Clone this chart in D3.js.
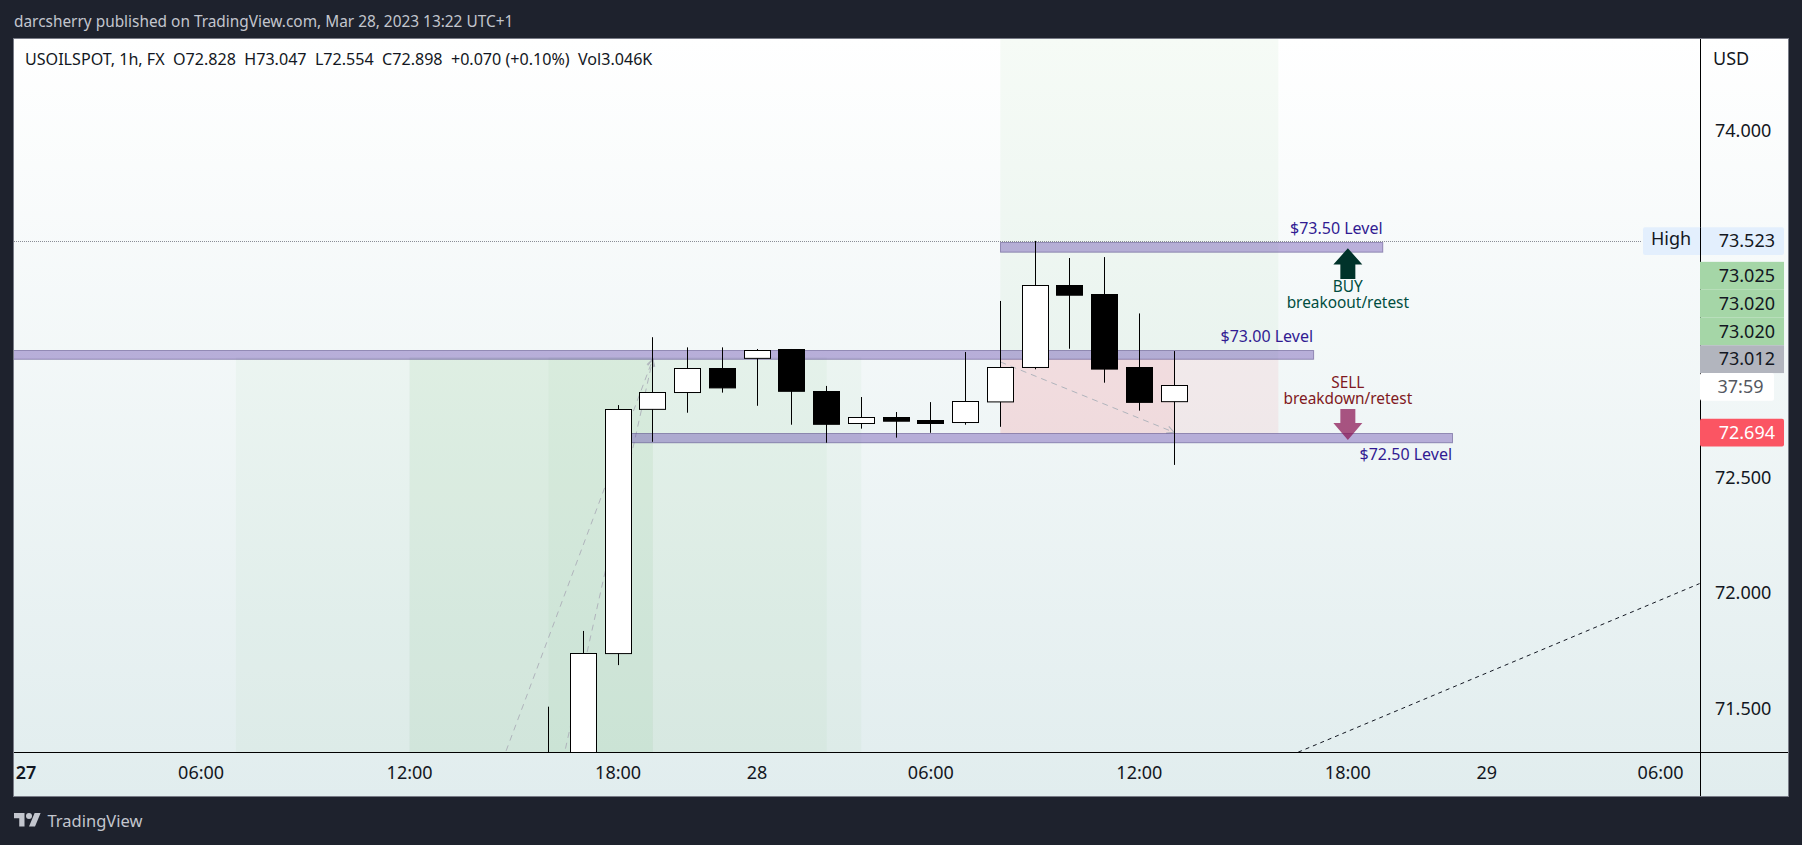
<!DOCTYPE html>
<html>
<head>
<meta charset="utf-8">
<script src="https://cdn.jsdelivr.net/npm/d3@7"></script>
<style>
  html, body { margin: 0; padding: 0; background: #1e222d; overflow: hidden; }
  svg { display: block; }
  text { font-family: "Noto Sans", sans-serif; }
</style>
</head>
<body>
<svg id="chart" width="1802" height="845"></svg>
<script>
// candles, bar numbers count hours from the "27" session open
const bars   = [16, 17, 18, 19, 20, 21, 22, 23, 24, 25, 26, 27, 28, 29, 30, 31, 32, 33, 34];
const opens  = [71.00, 71.20, 71.738, 72.795, 72.868, 72.972, 73.016, 73.052, 72.874, 72.734, 72.761, 72.748, 72.738, 72.828, 72.977, 73.333, 73.294, 72.974, 72.828];
const highs  = [71.507, 71.835, 72.813, 73.107, 73.063, 73.063, 73.056, 73.056, 72.896, 72.848, 72.783, 72.826, 73.043, 73.264, 73.524, 73.450, 73.454, 73.210, 73.047];
const lows   = [70.90, 71.10, 71.687, 72.654, 72.780, 72.867, 72.810, 72.728, 72.650, 72.711, 72.672, 72.693, 72.728, 72.719, 72.968, 73.057, 72.910, 72.789, 72.554];
const closes = [71.25, 71.738, 72.795, 72.868, 72.972, 72.888, 73.050, 72.871, 72.732, 72.760, 72.745, 72.735, 72.829, 72.977, 73.332, 73.291, 72.971, 72.823, 72.898];

// axes
const priceTicks = [74, 72.5, 72, 71.5];
const timeTickBars = [0, 6, 12, 18, 22, 27, 33, 39, 43, 48];
const timeTickLabels = ['27', '06:00', '12:00', '18:00', '28', '06:00', '12:00', '18:00', '29', '06:00'];

// drawing tools on the chart
const levelLabels = ['$73.50 Level', '$73.00 Level', '$72.50 Level'];
const levelStart  = [29, 0, 18];
const levelEnd    = [40, 38, 42];
const levelTop    = [73.519, 73.050, 72.690];
const levelBottom = [73.477, 73.012, 72.650];

const longStart = [7, 12, 12, 16];
const longEnd   = [25, 24, 19, 19];
const longTop   = 73.02;

const highPrice = 73.523;
const sideLabels = ['73.025', '73.020', '73.020', '73.012'];
const lastPrice = 72.694;
const countdown = '37:59';

const width = 1802, height = 845;
const panelLeft = 14, panelRight = 1788, panelTop = 39, panelBottom = 796;
const plotBottom = 752, axisX = 1700;

const x = d3.scaleLinear().domain([18, 34]).range([618.1, 1174.1]);
const y = d3.scaleLinear().domain([71.5, 74]).range([708.3, 131]);
const crisp = v => Math.floor(v) + 0.5;

const svg = d3.select('#chart');
const defs = svg.append('defs');

const grad = defs.append('linearGradient')
    .attr('id', 'bg').attr('x1', 0).attr('y1', 0).attr('x2', 0).attr('y2', 1);
grad.append('stop').attr('offset', '0%').attr('stop-color', '#ffffff');
grad.append('stop').attr('offset', '100%').attr('stop-color', '#e1edee');

defs.append('clipPath').attr('id', 'plot')
    .append('rect').attr('x', panelLeft).attr('y', panelTop).attr('width', axisX - panelLeft).attr('height', plotBottom - panelTop);

defs.append('marker').attr('id', 'head')
    .attr('viewBox', '0 0 10 10').attr('refX', 9).attr('refY', 5)
    .attr('markerWidth', 9).attr('markerHeight', 9).attr('markerUnits', 'userSpaceOnUse').attr('orient', 'auto')
    .append('path').attr('d', 'M1 1L9 5L1 9').attr('fill', 'none').attr('stroke', '#b0b4bc').attr('stroke-width', 1.2);

svg.append('rect').attr('width', width).attr('height', height).attr('fill', '#1e222d');
svg.append('rect')
    .attr('x', panelLeft - 0.5).attr('y', panelTop - 0.5)
    .attr('width', panelRight - panelLeft + 1).attr('height', panelBottom - panelTop + 1)
    .attr('fill', 'url(#bg)').attr('stroke', '#787b86');

const plot = svg.append('g').attr('clip-path', 'url(#plot)');

// long position boxes behind the candles
plot.selectAll('.long')
    .data(longStart)
    .enter()
    .append('rect')
    .attr('x', d => x(d))
    .attr('y', y(longTop))
    .attr('width', (d, i) => x(longEnd[i]) - x(d))
    .attr('height', plotBottom - y(longTop))
    .attr('fill', 'rgba(76, 175, 80, 0.04)');

// the big position box on the right
plot.append('rect')
    .attr('x', x(29)).attr('y', panelTop)
    .attr('width', x(37) - x(29)).attr('height', y(73.012) - panelTop)
    .attr('fill', 'rgba(76, 175, 80, 0.05)');
plot.append('rect')
    .attr('x', x(29)).attr('y', y(73.012))
    .attr('width', x(37) - x(29)).attr('height', y(72.69) - y(73.012))
    .attr('fill', 'rgba(242, 54, 69, 0.07)');
plot.append('rect')
    .attr('x', x(29)).attr('y', y(73.012))
    .attr('width', x(34) - x(29)).attr('height', y(72.69) - y(73.012))
    .attr('fill', 'rgba(242, 54, 69, 0.07)');

// position tool path lines
const toolLines = [
    [[12, 70.2], [19, 73.012]],
    [[16, 71.0], [19, 73.012]],
    [[29, 73.0], [34, 72.695]]
];
plot.selectAll('.tool')
    .data(toolLines)
    .enter()
    .append('line')
    .attr('x1', d => x(d[0][0])).attr('y1', d => y(d[0][1]))
    .attr('x2', d => x(d[1][0])).attr('y2', d => y(d[1][1]))
    .attr('stroke', '#b0b4bc').attr('stroke-dasharray', '6 5').attr('marker-end', 'url(#head)');

// level bands
plot.selectAll('.level')
    .data(levelStart)
    .enter()
    .append('rect')
    .attr('x', (d, i) => crisp(i === 1 ? panelLeft - 2 : x(d)))
    .attr('y', (d, i) => crisp(y(levelTop[i])))
    .attr('width', (d, i) => x(levelEnd[i]) - (i === 1 ? panelLeft - 2 : x(d)))
    .attr('height', (d, i) => y(levelBottom[i]) - y(levelTop[i]))
    .attr('fill', 'rgba(102, 74, 174, 0.42)')
    .attr('stroke', 'rgba(80, 66, 130, 0.5)');

// high line
svg.append('line')
    .attr('x1', panelLeft).attr('x2', 1641)
    .attr('y1', crisp(y(highPrice))).attr('y2', crisp(y(highPrice)))
    .attr('stroke', '#8a8d96').attr('stroke-dasharray', '1 1');

// long trend line running off the bottom
plot.append('line')
    .attr('x1', x(37.57)).attr('y1', y(71.31))
    .attr('x2', x(49.12)).attr('y2', y(72.04))
    .attr('stroke', '#131722').attr('stroke-dasharray', '4 4');

// candles
const candles = plot.selectAll('.candle')
    .data(bars)
    .enter()
    .append('g')
    .attr('class', 'candle');

candles.append('line')
    .attr('x1', d => crisp(x(d))).attr('x2', d => crisp(x(d)))
    .attr('y1', (d, i) => y(highs[i])).attr('y2', (d, i) => y(lows[i]))
    .attr('stroke', '#000');

candles.append('rect')
    .attr('x', d => crisp(x(d)) - 13)
    .attr('y', (d, i) => crisp(y(Math.max(opens[i], closes[i]))))
    .attr('width', 26)
    .attr('height', (d, i) => Math.abs(y(opens[i]) - y(closes[i])))
    .attr('fill', (d, i) => closes[i] >= opens[i] ? '#ffffff' : '#000000')
    .attr('stroke', '#000');

// arrows
const arrowX = x(39);
svg.append('path')
    .attr('d', d3.line()([[arrowX, 248.3], [arrowX + 14.5, 264.5], [arrowX + 7.5, 264.5], [arrowX + 7.5, 279], [arrowX - 7.5, 279], [arrowX - 7.5, 264.5], [arrowX - 14.5, 264.5]]) + 'Z')
    .attr('fill', '#00332a');
svg.append('path')
    .attr('d', d3.line()([[arrowX, 440], [arrowX + 14.5, 423], [arrowX + 7.5, 423], [arrowX + 7.5, 409], [arrowX - 7.5, 409], [arrowX - 7.5, 423], [arrowX - 14.5, 423]]) + 'Z')
    .attr('fill', '#880e4f').attr('fill-opacity', 0.7);

// annotation text
const levelText = (txt, xPos, yPos) => svg.append('text')
    .attr('x', xPos).attr('y', yPos)
    .attr('dy', '0.35em')
    .attr('text-anchor', 'end')
    .attr('font-size', 16)
    .attr('fill', '#311b92')
    .text(txt);

levelText(levelLabels[0], x(40), 228.7);
levelText(levelLabels[1], x(38), 336.7);
levelText(levelLabels[2], x(42), 454.7);

// two line notes under and over the arrows
const noteText = (lines, yPos, color) => {
    const note = svg.append('text')
        .attr('y', yPos)
        .attr('text-anchor', 'middle')
        .attr('font-size', 15.4)
        .attr('fill', color);
    note.selectAll('tspan')
        .data(lines)
        .enter()
        .append('tspan')
        .attr('x', arrowX)
        .attr('dy', (d, i) => i === 0 ? '0.35em' : 16.3)
        .text(d => d);
};
noteText(['BUY', 'breakoout/retest'], 286.7, '#004d40');
noteText(['SELL', 'breakdown/retest'], 382.7, '#801922');

// price axis
const axisText = 18;
const yAxis = svg.append('g')
    .attr('transform', `translate(${axisX + 0.5}, 0)`)
    .call(d3.axisRight(y).tickValues(priceTicks).tickFormat(d3.format('.3f')).tickSize(0).tickPadding(14.5));
yAxis.select('.domain').remove();
yAxis.selectAll('text').attr('font-size', axisText).attr('font-family', null).attr('fill', '#131722');

// time axis
const xAxis = svg.append('g')
    .attr('transform', `translate(0, ${plotBottom + 0.5})`)
    .call(d3.axisBottom(x).tickValues(timeTickBars).tickFormat((d, i) => timeTickLabels[i]).tickSize(0).tickPadding(13.5));
xAxis.select('.domain').remove();
xAxis.selectAll('text').attr('font-size', axisText).attr('font-family', null).attr('fill', '#131722');
// first label sits against the left edge, and is bold like a day change
xAxis.selectAll('.tick').attr('transform', d => `translate(${Math.max(x(d), panelLeft + 12)}, 0)`);
xAxis.selectAll('.tick text').filter(d => d === 0).attr('font-weight', 600);

svg.append('line').attr('x1', panelLeft).attr('x2', panelRight).attr('y1', plotBottom + 0.5).attr('y2', plotBottom + 0.5).attr('stroke', '#000');
svg.append('line').attr('x1', axisX + 0.5).attr('x2', axisX + 0.5).attr('y1', panelTop).attr('y2', panelBottom).attr('stroke', '#000');

svg.append('text').attr('x', 1713).attr('y', 58.5).attr('dy', '0.35em')
    .attr('font-size', axisText).attr('fill', '#131722').text('USD');

// price labels on the axis
const tagRight = 1784, tagHeight = 27.8;
const tag = (yPos, tagX, tagW, fill, radius) => svg.append('rect')
    .attr('x', tagX).attr('y', yPos - tagHeight / 2)
    .attr('width', tagW).attr('height', tagHeight)
    .attr('rx', radius).attr('fill', fill);
const tagText = (txt, yPos, color) => svg.append('text')
    .attr('x', 1775).attr('y', yPos).attr('dy', '0.35em')
    .attr('text-anchor', 'end').attr('font-size', axisText)
    .attr('fill', color).text(txt);

tag(y(highPrice), 1643, tagRight - 1643, '#e3effd', 2);
svg.append('line').attr('x1', axisX + 0.5).attr('x2', axisX + 0.5)
    .attr('y1', y(highPrice) - tagHeight / 2).attr('y2', y(highPrice) + tagHeight / 2).attr('stroke', '#000');
tagText(d3.format('.3f')(highPrice), y(highPrice), '#131722');
svg.append('text').attr('x', 1651).attr('y', y(highPrice) - 2).attr('dy', '0.35em')
    .attr('font-size', axisText).attr('fill', '#131722').text('High');

// the labels stack upward from the lowest one
const stackBase = y(73.012);
sideLabels.forEach((d, i) => {
    const yPos = stackBase - (sideLabels.length - 1 - i) * tagHeight;
    tag(yPos, axisX, tagRight - axisX, i === sideLabels.length - 1 ? '#b2b5be' : '#a5d6a7', 0);
});
sideLabels.forEach((d, i) => {
    tagText(d, stackBase - (sideLabels.length - 1 - i) * tagHeight, '#131722');
});

tag(stackBase + tagHeight, axisX, 74, '#ffffff', 2);
svg.append('text').attr('x', 1740.5).attr('y', stackBase + tagHeight).attr('dy', '0.35em')
    .attr('text-anchor', 'middle').attr('font-size', axisText).attr('fill', '#555861').text(countdown);

tag(y(lastPrice), axisX, tagRight - axisX, '#fb5563', 2);
tagText(d3.format('.3f')(lastPrice), y(lastPrice), '#ffffff');

// header, legend, footer
svg.append('text').attr('x', 14).attr('y', 21.5).attr('dy', '0.35em')
    .attr('font-size', 15.4).attr('fill', '#c3c6ce')
    .text('darcsherry published on TradingView.com, Mar 28, 2023 13:22 UTC+1');

svg.append('text').attr('x', 25).attr('y', 59.5).attr('dy', '0.35em')
    .attr('font-size', 16.1).attr('fill', '#131722')
    .style('white-space', 'pre')
    .text('USOILSPOT, 1h, FX  O72.828  H73.047  L72.554  C72.898  +0.070 (+0.10%)  Vol3.046K');

const logo = svg.append('g').attr('transform', 'translate(14, 810) scale(0.75)').attr('fill', '#c3c6ce');
logo.append('path').attr('d', 'M14 22H7V11H0V4h14v18zM28 22h-8l7.5-18h8L28 22z');
logo.append('circle').attr('cx', 20).attr('cy', 8).attr('r', 4);

svg.append('text').attr('x', 47.5).attr('y', 821).attr('dy', '0.35em')
    .attr('font-size', 16.5).attr('fill', '#c3c6ce').text('TradingView');
</script>
</body>
</html>
